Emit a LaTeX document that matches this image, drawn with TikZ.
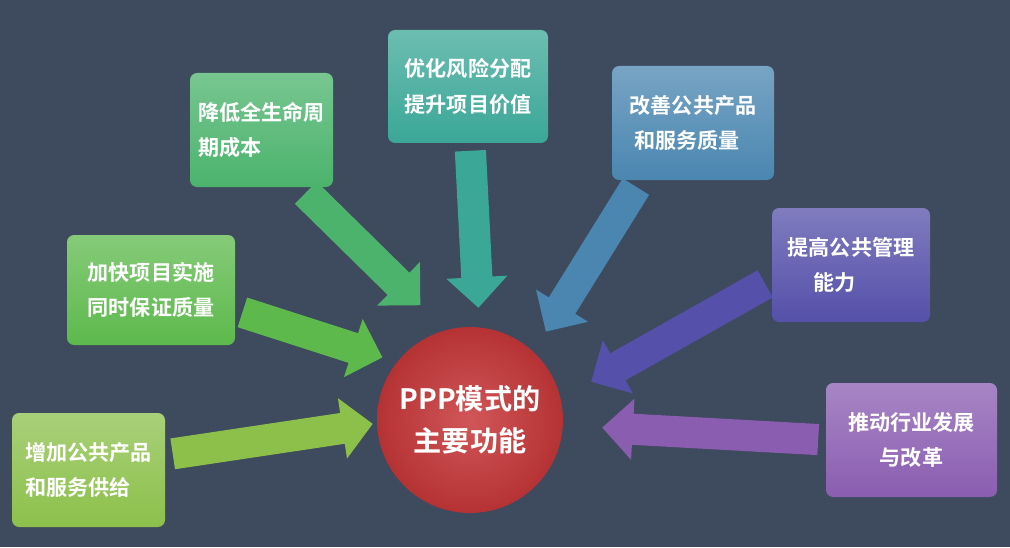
\documentclass[tikz,border=0pt]{standalone}
\usepackage{fontspec}
\newfontfamily\cjk{Noto Sans CJK SC}[BoldFont={Noto Sans CJK SC Bold}]
\usetikzlibrary{shapes.arrows,calc}
\definecolor{bgslate}{HTML}{3E4A5D}
\definecolor{cA}{HTML}{8CC04B}
\definecolor{cB}{HTML}{5DB94C}
\definecolor{cC}{HTML}{4BB36C}
\definecolor{cD}{HTML}{3BA797}
\definecolor{cE}{HTML}{4A86B0}
\definecolor{cF}{HTML}{5550A9}
\definecolor{cG}{HTML}{8A5DB1}
\definecolor{cR}{HTML}{C9383A}
\tikzset{
    func box/.style={rounded corners=6pt, inner sep=0pt, align=left,
        text=white, font=\cjk\bfseries\fontsize{18}{30}\selectfont,
        top color=#1!75!white, bottom color=#1},
    block arrow/.style={single arrow, inner xsep=0pt, inner ysep=0.46cm,
        single arrow head extend=0.45cm, fill=#1, draw=none}
}
\newcommand{\blockarrow}[3]{%
    \path let \p1=(#1), \p2=(#2),
        \n1={atan2(\y2-\y1,\x2-\x1)}, \n2={veclen(\x2-\x1,\y2-\y1)} in
        node[block arrow=#3, rotate=\n1, minimum height=\n2] at ($(#1)!0.5!(#2)$) {};}
\begin{document}
\begin{tikzpicture}
    \fill[bgslate] (0,0) rectangle (30.3,16.41);
    \useasboundingbox (0,0) rectangle (30.3,16.41);
    % arrow ends
    \coordinate (a1) at (4.95,2.76);  \coordinate (b1) at (10.95,3.66);
    \coordinate (a2) at (7.05,7.11);  \coordinate (b2) at (11.25,5.76);
    \coordinate (a3) at (9.0,10.8);   \coordinate (b3) at (12.45,7.41);
    \coordinate (a4) at (14.1,12.12); \coordinate (b4) at (14.34,7.41);
    \coordinate (a5) at (19.2,11.01); \coordinate (b5) at (16.5,6.66);
    \coordinate (a6) at (23.16,8.01); \coordinate (b6) at (17.94,5.07);
    \coordinate (a7) at (24.78,3.21); \coordinate (b7) at (18.3,3.57);
    \blockarrow{a1}{b1}{cA}
    \blockarrow{a2}{b2}{cB}
    \blockarrow{a3}{b3}{cC}
    \blockarrow{a4}{b4}{cD}
    \blockarrow{a5}{b5}{cE}
    \blockarrow{a6}{b6}{cF}
    \blockarrow{a7}{b7}{cG}
    % boxes
    \node[func box=cA, minimum width=4.59cm, minimum height=3.42cm] (supply) at (2.655,2.31) {增加公共产品\\和服务供给};
    \node[func box=cB, minimum width=5.04cm, minimum height=3.30cm] (speed) at (4.53,7.71) {加快项目实施\\同时保证质量};
    \node[func box=cC, minimum width=4.29cm, minimum height=3.42cm] (cost) at (7.845,12.51) {降低全生命周\\期成本};
    \node[func box=cD, minimum width=4.80cm, minimum height=3.39cm] (risk) at (14.04,13.815) {优化风险分配\\提升项目价值};
    \node[func box=cE, minimum width=4.86cm, minimum height=3.42cm] (quality) at (20.79,12.72) {改善公共产品\\\ 和服务质量};
    \node[func box=cF, minimum width=4.74cm, minimum height=3.42cm] (manage) at (25.53,8.46) {提高公共管理\\\hspace{1.2em}能力};
    \node[func box=cG, minimum width=5.13cm, minimum height=3.42cm] (reform) at (27.345,3.21) {推动行业发展\\\hspace{1.5em}与改革};
    % centre
    \node[circle, minimum size=5.58cm, inner sep=0pt, align=center, text=white,
        inner color=cR!85!white, outer color=cR!90!black,
        font=\cjk\bfseries\fontsize{24}{36}\selectfont] (ppp) at (14.1,3.81) {PPP模式的\\主要功能};
\end{tikzpicture}
\end{document}
